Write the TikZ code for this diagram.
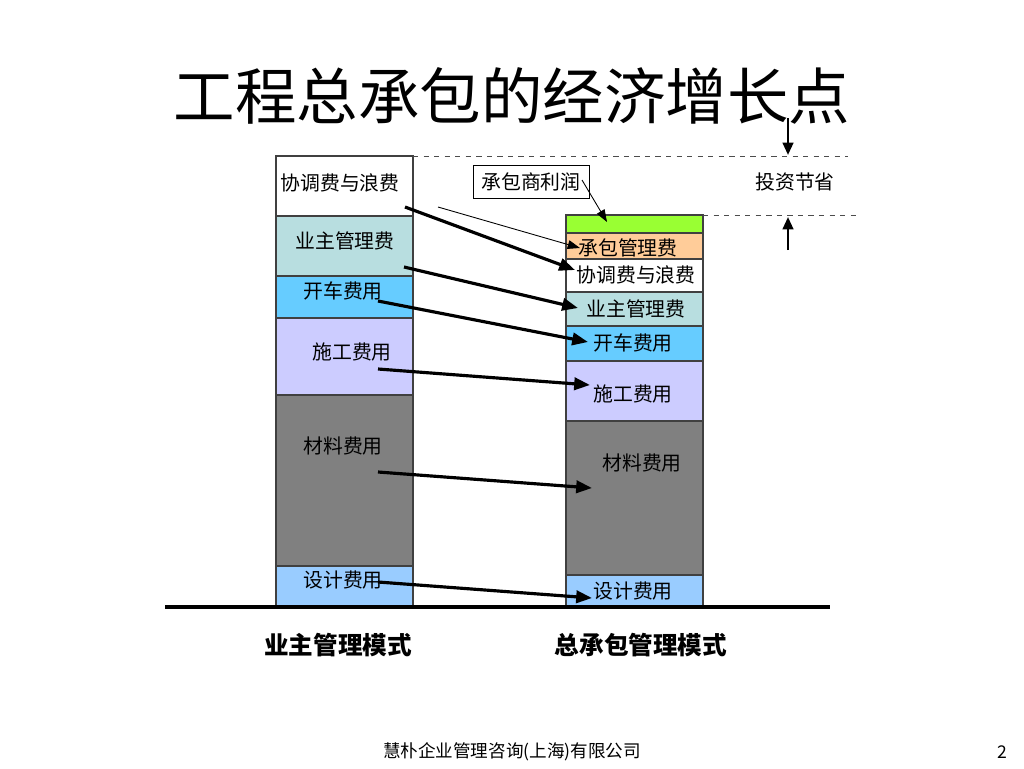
\documentclass[tikz,border=0pt]{standalone}
\usepackage{fontspec}
\setmainfont{Noto Sans CJK SC}
\usepackage{tikz}
\usetikzlibrary{arrows.meta}
\definecolor{tealbar}{HTML}{B8DEE0}
\definecolor{bluebar}{HTML}{66CCFF}
\definecolor{lavbar}{HTML}{CCCCFF}
\definecolor{graybar}{HTML}{808080}
\definecolor{skybar}{HTML}{99CCFF}
\definecolor{greenbar}{HTML}{99FF33}
\definecolor{orangebar}{HTML}{FFCC99}
\tikzset{
    lbl/.style={inner sep=0pt, font=\fontsize{11.3}{13}\selectfont},
    bigarrow/.style={line width=1.8pt, -{Triangle[length=9pt, width=7pt]}},
    thinarrow/.style={line width=0.5pt, -{Triangle[length=7pt, width=5pt]}},
}

\begin{document}
\begin{tikzpicture}[x=0.02cm, y=-0.02cm]
    \useasboundingbox (0,0) rectangle (1024,768);

    % left bar
    \foreach \ytop/\ybot/\col in {156/216/white, 216/276/tealbar, 276/318/bluebar,
                                  318/395/lavbar, 395/566/graybar, 566/607/skybar} {
        \filldraw[fill=\col, draw=black!75, line width=0.6pt] (276,\ytop) rectangle (413,\ybot);
    }

    % right bar
    \foreach \ytop/\ybot/\col in {215/233/greenbar, 233/259/orangebar, 259/292/white,
                                  292/326/tealbar, 326/361/bluebar, 361/421/lavbar,
                                  421/575/graybar, 575/607/skybar} {
        \filldraw[fill=\col, draw=black!75, line width=0.6pt] (566,\ytop) rectangle (703,\ybot);
    }

    % ground
    \draw[line width=2.2pt] (165,607) -- (830,607);

    % savings marks
    \draw[dashed, black!70, line width=0.5pt] (413,156) -- (848,156);
    \draw[dashed, black!70, line width=0.5pt] (703,215) -- (858,215);
    \coordinate (dtop) at (788,118);
    \coordinate (dbot) at (788,155);
    \coordinate (utop) at (788,217);
    \coordinate (ubot) at (788,250);
    \draw[line width=1.4pt, -{Triangle[length=7pt, width=6pt]}] (dtop) -- (dbot);
    \draw[line width=1.4pt, -{Triangle[length=7pt, width=6pt]}] (ubot) -- (utop);
    \node[lbl] (save) at (795,182) {投资节省};

    % title and captions
    \node[inner sep=0pt, font=\fontsize{35}{40}\selectfont] (title) at (512,96) {工程总承包的经济增长点};
    \node[inner sep=0pt, font=\fontsize{14}{16}\selectfont\bfseries] (capl) at (338,645) {业主管理模式};
    \node[inner sep=0pt, font=\fontsize{14}{16}\selectfont\bfseries] (capr) at (641,645) {总承包管理模式};
    \node[inner sep=0pt, font=\fontsize{10}{12}\selectfont] (foot) at (512,752) {慧朴企业管理咨询(上海)有限公司};
    \node[inner sep=0pt, font=\fontsize{10}{12}\selectfont] (page) at (1002,752) {2};

    % left labels
    \node[lbl] (l1) at (340,183) {协调费与浪费};
    \node[lbl] (l2) at (345,241) {业主管理费};
    \node[lbl] (l3) at (343,291) {开车费用};
    \node[lbl] (l4) at (352,352) {施工费用};
    \node[lbl] (l5) at (343,446) {材料费用};
    \node[lbl] (l6) at (343,580) {设计费用};

    % right labels
    \node[lbl] (r0) at (628,248) {承包管理费};
    \node[lbl] (r1) at (636,275) {协调费与浪费};
    \node[lbl] (r2) at (636,309) {业主管理费};
    \node[lbl] (r3) at (633,343) {开车费用};
    \node[lbl] (r4) at (633,394) {施工费用};
    \node[lbl] (r5) at (642,463) {材料费用};
    \node[lbl] (r6) at (633,591) {设计费用};

    % profit box
    \node[lbl, draw, line width=0.5pt, minimum width=116*0.02cm, minimum height=33*0.02cm]
        (profit) at (531,182) {承包商利润};

    % arrow ends
    \coordinate (a1) at (405,207);  \coordinate (b1) at (575,270);
    \coordinate (a2) at (404,267);  \coordinate (b2) at (578,308);
    \coordinate (a3) at (378,301);  \coordinate (b3) at (588,342);
    \coordinate (a4) at (378,369);  \coordinate (b4) at (590,385);
    \coordinate (a5) at (378,472);  \coordinate (b5) at (592,488);
    \coordinate (a6) at (378,582);  \coordinate (b6) at (592,598);
    \coordinate (p1) at (582,180);  \coordinate (q1) at (607,222);
    \coordinate (p2) at (438,207);  \coordinate (q2) at (580,248);

    \foreach \i in {1,...,6} {
        \draw[bigarrow] (a\i) -- (b\i);
    }
    \draw[thinarrow] (p1) -- (q1);
    \draw[thinarrow] (p2) -- (q2);
\end{tikzpicture}
\end{document}
